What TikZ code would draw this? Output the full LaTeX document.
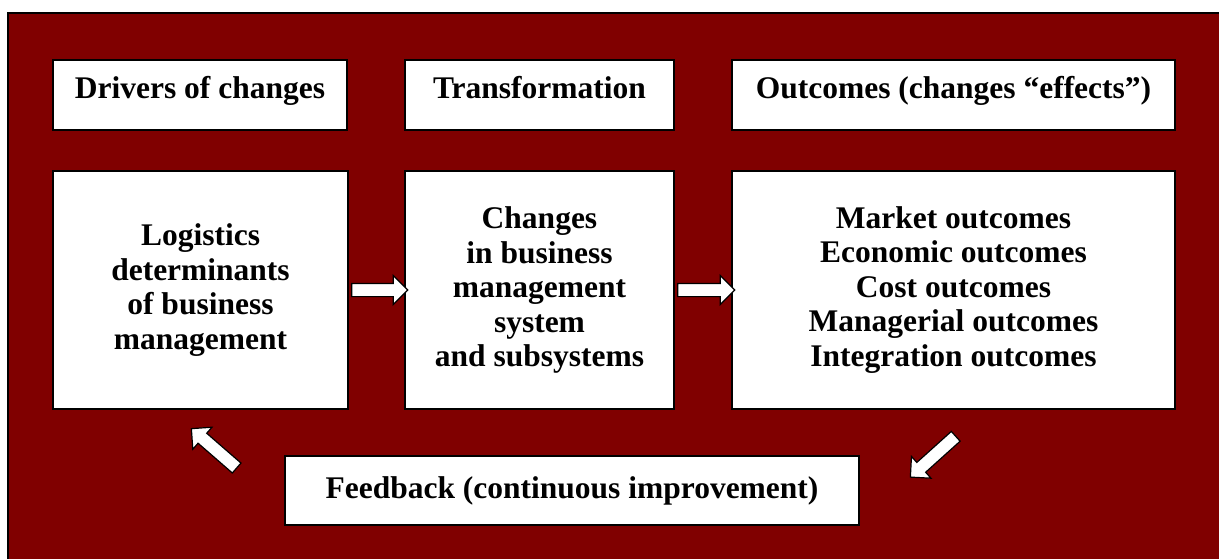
\documentclass[tikz,border=0pt]{standalone}
\usepackage{fontspec}
\setmainfont{Liberation Serif}
\usetikzlibrary{shapes.arrows,calc}
\definecolor{bgred}{RGB}{128,0,0}
\tikzset{
  box/.style={draw=black, line width=2pt, fill=white, anchor=north west, inner sep=0pt,
    align=center, font=\fontsize{31.5}{34.5}\selectfont\bfseries},
  hdr/.style={box, text height=22pt, text depth=14pt},
  blockarrow/.style={single arrow, draw=black, fill=white, line width=1.2pt,
    single arrow head extend=8pt, inner sep=0pt, single arrow tip angle=90},
}
\newcommand{\shaft}{\rule{0pt}{12pt}}
\begin{document}
\begin{tikzpicture}[x=1pt,y=-1pt]
\useasboundingbox (0,0) rectangle (1219,559);
\clip (0,0) rectangle (1219,559);
\fill[white] (0,0) rectangle (1219,559);
\draw[fill=bgred, line width=2pt] (8,13) rectangle (1230,570);
% top header boxes
\node[hdr, minimum width=294pt, minimum height=70pt] (h1) at (52,59) {Drivers of changes};
\node[hdr, minimum width=269pt, minimum height=70pt] (h2) at (404,59) {Transformation};
\node[hdr, minimum width=443pt, minimum height=70pt] (h3) at (731,59) {Outcomes (changes “effects”)};
% main boxes
\node[box, minimum width=295pt, minimum height=238pt] (b1) at (52,170) {Logistics\\determinants\\of business\\management};
\node[box, minimum width=269pt, minimum height=238pt] (b2) at (404,170) {Changes\\in business\\management\\system\\and subsystems};
\node[box, minimum width=443pt, minimum height=238pt] (b3) at (731,170) {Market outcomes\\Economic outcomes\\Cost outcomes\\Managerial outcomes\\Integration outcomes};
% feedback
\node[box, text height=22pt, text depth=7pt, minimum width=574pt, minimum height=69pt] (fb) at (284,455) {Feedback (continuous improvement)};
% arrows
\node[blockarrow, minimum height=56pt] (a1) at ($(b1.east)!0.5!(b2.west)$) {\shaft};
\node[blockarrow, minimum height=57pt] (a2) at ($(b2.east)!0.5!(b3.west)$) {\shaft};
\node[blockarrow, minimum height=60pt, rotate=139] (a3) at (216.5,450.5) {\shaft};
\node[blockarrow, minimum height=61pt, rotate=222] (a4) at (935.5,454.5) {\shaft};
\end{tikzpicture}
\end{document}
